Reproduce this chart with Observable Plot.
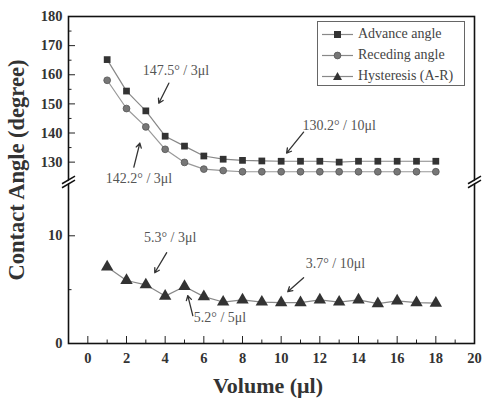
<!DOCTYPE html>
<html><head><meta charset="utf-8">
<script src="https://cdn.jsdelivr.net/npm/d3@7"></script>
<script src="https://cdn.jsdelivr.net/npm/@observablehq/plot@0.6"></script>
<style>
body{margin:0;background:#fff}
#wrap{position:relative;width:482px;height:402px;font-family:"Liberation Serif","DejaVu Serif",serif;color:#222}
.ttl{position:absolute;font-weight:bold;white-space:nowrap;color:#333}
#legend{position:absolute;left:317px;top:21px;width:148px;height:65px;border:1px solid #666;background:#fff;box-sizing:border-box;font-size:14px;color:#444}
#legend .row{position:absolute;left:4px;height:20px;line-height:20px;white-space:nowrap}
#legend svg{vertical-align:middle;margin-right:5px}
</style>
</head><body><div id="wrap"></div>
<script>
// ---- data ----
const volume = [1,2,3,4,5,6,7,8,9,10,11,12,13,14,15,16,17,18];
const advance = [165.2,154.4,147.6,138.9,135.5,132.1,131.0,130.6,130.4,130.3,130.3,130.3,130.0,130.3,130.3,130.3,130.3,130.3];
const receding = [158.1,148.4,142.1,134.4,129.9,127.6,127.1,126.7,126.7,126.7,126.7,126.7,126.7,126.7,126.7,126.7,126.7,126.7];
const hysteresis = [7.1,5.85,5.45,4.4,5.3,4.35,3.85,4.05,3.85,3.8,3.8,4.05,3.85,4.05,3.7,3.95,3.8,3.75];
const seriesNames = ["Advance angle","Receding angle","Hysteresis (A-R)"];
const xTicks = [0,2,4,6,8,10,12,14,16,18,20];
const xMinor = [1,3,5,7,9,11,13,15,17,19];
const yTickLabels = [0,10,130,140,150,160,170,180];
const yMinor = [5,135,145,155,165,175];
// annotations (data space)
const annoText = ["147.5° / 3μl","142.2° / 3μl","130.2° / 10μl","5.3° / 3μl","5.2° / 5μl","3.7° / 10μl"];
const annoX = [2.84,0.93,11.1,2.9,5.48,11.27];
const annoY = [161.5,124.5,142.7,9.8,2.4,7.4];
const arrowX1 = [4.19,2.38,11.16,4.08,5.43,11.16];
const arrowY1 = [157.1,128.3,140.3,8.43,2.59,6.11];
const arrowX2 = [3.67,2.69,10.28,3.46,5.17,10.34];
const arrowY2 = [150.2,136.5,133.1,6.57,4.44,4.81];
const breakX = [-1, 20];

// ---- broken axis mapping ----
const BREAK_LOW = 15, BREAK_HIGH = 123.2, RATIO = 0.2704, TOP_MAX = 180;
const yv = v => v < 60 ? v : BREAK_LOW + (v - BREAK_HIGH) * RATIO;
const yInv = d => d <= BREAK_LOW + 1e-6 ? d : BREAK_HIGH + (d - BREAK_LOW) / RATIO;

// axis-break glyphs (custom symbols)
const gapSymbol = {draw(c) { c.moveTo(-6, 4.2); c.lineTo(6, -2.8); c.lineTo(6, -4.2); c.lineTo(-6, 2.8); c.closePath(); }};
const breakSymbol = {draw(c) { c.moveTo(-6.5, 5.8); c.lineTo(6.5, -1.8); c.moveTo(-6.5, 1.8); c.lineTo(6.5, -5.8); }};

const rows = volume.map((v,i) => ({v, a: advance[i], r: receding[i], h: hysteresis[i]}));
const annos = annoText.map((t,i) => ({t, x: annoX[i], y: yv(annoY[i])}));
const arrows = arrowX1.map((x,i) => ({x1: x, y1: yv(arrowY1[i]), x2: arrowX2[i], y2: yv(arrowY2[i])}));

const plot = Plot.plot({
  width: 482, height: 402,
  marginLeft: 68, marginRight: 8, marginTop: 16, marginBottom: 59,
  style: {fontFamily: "Liberation Serif, serif", background: "white", color: "#222"},
  x: {domain: [-1, 20]},
  y: {domain: [0, yv(TOP_MAX)]},
  marks: [
    Plot.axisX({ticks: xTicks, tickSize: 0, tickPadding: 9, fontSize: 14.5, fontWeight: "bold", fill: "#333", label: null}),
    Plot.axisX({ticks: xTicks, tickSize: -7, fill: "none", stroke: "#222", label: null}),
    Plot.axisX({ticks: xMinor, tickSize: -3.5, fill: "none", stroke: "#222", label: null}),
    Plot.axisY({ticks: yTickLabels.map(yv), tickFormat: d => String(Math.round(yInv(d))), tickSize: 0, tickPadding: 6, fontSize: 14.5, fontWeight: "bold", fill: "#333", label: null}),
    Plot.axisY({ticks: yTickLabels.map(yv), tickSize: -7, fill: "none", stroke: "#222", label: null}),
    Plot.axisY({ticks: yMinor.map(yv), tickSize: -3.5, fill: "none", stroke: "#222", label: null}),
    Plot.frame({stroke: "#111", strokeWidth: 1.6}),
    // axis break marks
    Plot.dot(breakX, {x: d => d, y: () => BREAK_LOW, symbol: gapSymbol, fill: "white", stroke: "white", strokeWidth: 1}),
    Plot.dot(breakX, {x: d => d, y: () => BREAK_LOW, symbol: breakSymbol, fill: "none", stroke: "#111", strokeWidth: 1.5}),
    // series
    Plot.line(rows, {x: "v", y: d => yv(d.a), stroke: "#888", strokeWidth: 1.2}),
    Plot.line(rows, {x: "v", y: d => yv(d.r), stroke: "#999", strokeWidth: 1.2}),
    Plot.line(rows, {x: "v", y: d => yv(d.h), stroke: "#888", strokeWidth: 1.2}),
    Plot.dot(rows, {x: "v", y: d => yv(d.a), symbol: "square", r: 3.8, fill: "#333"}),
    Plot.dot(rows, {x: "v", y: d => yv(d.r), symbol: "circle", r: 3.4, fill: "#777", stroke: "#555", strokeWidth: 0.8}),
    Plot.dot(rows, {x: "v", y: d => yv(d.h), symbol: "triangle", r: 4.6, fill: "#333"}),
    // annotations
    Plot.arrow(arrows, {x1: "x1", y1: "y1", x2: "x2", y2: "y2", stroke: "#333", strokeWidth: 1.3, headLength: 6}),
    Plot.text(annos, {x: "x", y: "y", text: "t", textAnchor: "start", fontSize: 14, fill: "#555"})
  ]
});
const wrap = document.getElementById("wrap");
wrap.appendChild(plot);

// axis titles
const yt = document.createElement("div");
yt.className = "ttl";
yt.textContent = "Contact Angle (degree)";
yt.style.cssText = "font-size:22.5px;left:17px;top:170px;transform:translate(-50%,-50%) rotate(-90deg);";
wrap.appendChild(yt);
const xt = document.createElement("div");
xt.className = "ttl";
xt.textContent = "Volume (μl)";
xt.style.cssText = "font-size:22px;left:268px;top:386px;transform:translate(-50%,-50%);";
wrap.appendChild(xt);

// legend
const sym = [
  '<rect x="12" y="6" width="7" height="7" fill="#333"/>',
  '<circle cx="15.5" cy="9.5" r="3.4" fill="#777" stroke="#555" stroke-width="0.8"/>',
  '<path d="M15.5,5 L20,13 L11,13 Z" fill="#333"/>'
];
const lg = document.createElement("div");
lg.id = "legend";
seriesNames.forEach((name, i) => {
  const r = document.createElement("div");
  r.className = "row";
  r.style.top = (2 + i * 21) + "px";
  r.innerHTML = '<svg width="31" height="19"><line x1="0" y1="9.5" x2="31" y2="9.5" stroke="#888" stroke-width="1.2"/>' + sym[i] + '</svg>' + name;
  lg.appendChild(r);
});
wrap.appendChild(lg);
</script>
</body></html>
